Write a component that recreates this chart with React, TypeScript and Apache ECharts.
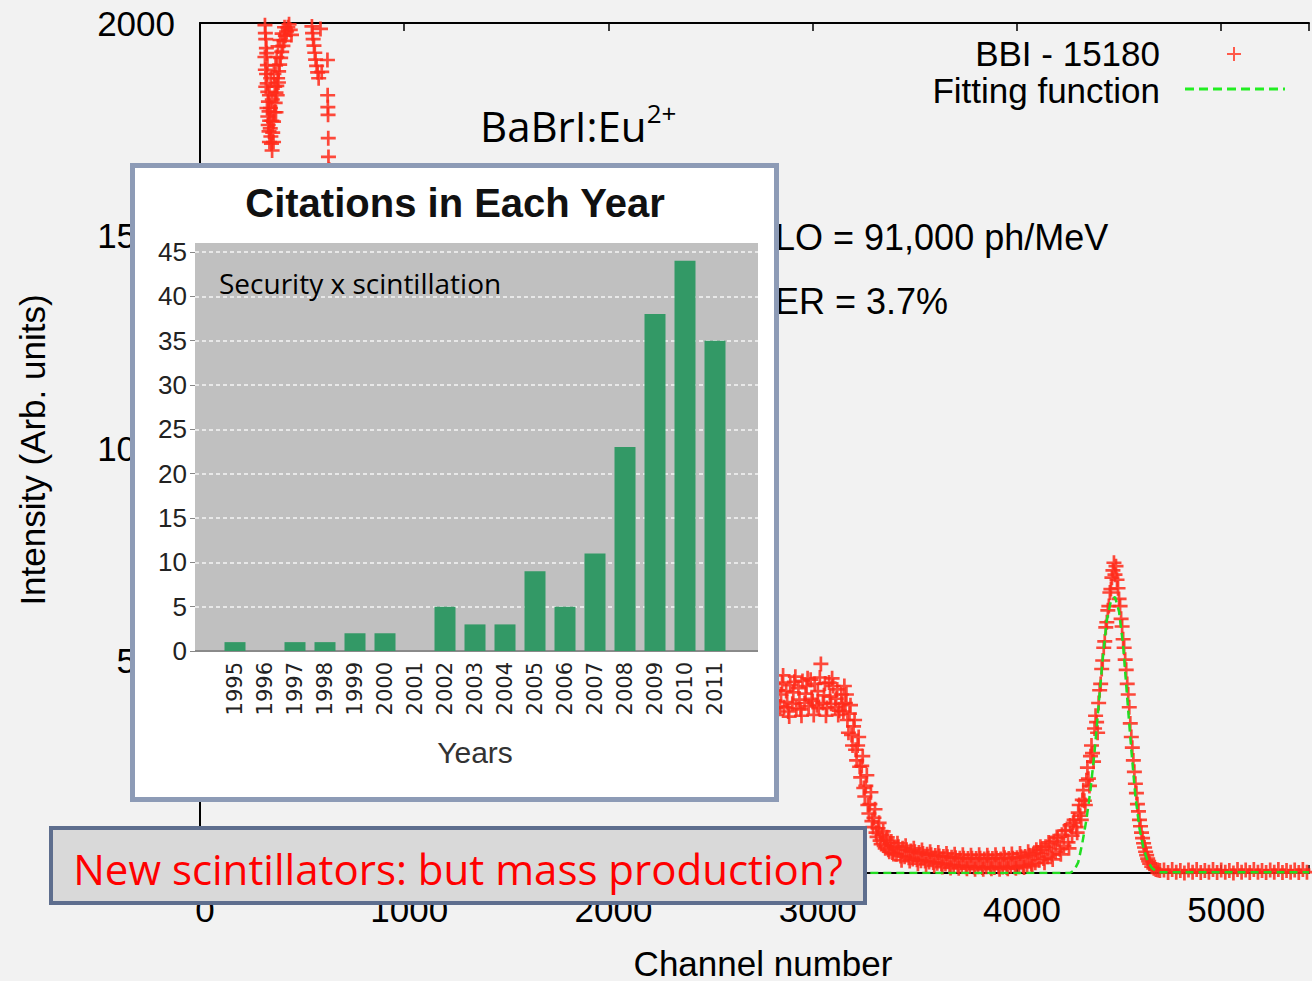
import React, { useEffect, useRef } from "react";
import * as echarts from "echarts";

// ---------- Inset: citations per year ----------
const years = ["1995","1996","1997","1998","1999","2000","2001","2002","2003","2004","2005","2006","2007","2008","2009","2010","2011"];
const citations = [1, 0, 1, 1, 2, 2, 0, 5, 3, 3, 9, 5, 11, 23, 38, 44, 35];
const insetTicks = [0, 5, 10, 15, 20, 25, 30, 35, 40, 45];

// ---------- Main spectrum: BBI - 15180 (channel, intensity) ----------
const bbiLowChannels = [
  [318,1995],[320,1976],[322,1962],[325,1941],[327,1929],[330,1901],[326,1880],[329,1858],[332,1838],
  [335,1815],[338,1792],[341,1770],[344,1752],[347,1733],[350,1716],[353,1700],[356,1742],[360,1768],
  [364,1790],[368,1812],[372,1836],[376,1852],[380,1870],[385,1886],[390,1902],[395,1918],[400,1932],
  [406,1946],[412,1958],[418,1970],[424,1980],[430,1990],[436,1997],[442,1984],[448,1972],[455,2300],
  [480,2500],[510,2450],[535,2250],[548,1992],[551,1976],[554,1962],[558,1947],[562,1930],[566,1914],
  [571,1899],[576,1884],[581,1870],[590,1986],[596,1885],[624,1913],[625,1830],[626,1802],[627,1784],
  [628,1729],[629,1685],[633,1655],[645,1640],
  [332,1780],[338,1745],[345,1800],[352,1770],[360,1720],[366,1850],[372,1790],[378,1830],[384,1860],
  [322,1850],[328,1800],[334,1760],[340,1830],[346,1870],[354,1820],[362,1880],[370,1900],[376,1920],
  [382,1945],[392,1960],[402,1975],[414,1990],[340,1720],[318,1920],[320,1890]
];
const bbiContinuum = [
  [660,1600],[700,1560],[800,1420],[900,1270],[1000,1130],[1200,930],[1400,780],[1600,660],
  [1800,580],[2000,530],[2200,490],[2400,465],[2600,440],[2700,428],[2760,420]
];
const bbiPlateau = [
  [2780,440],[2790,385],[2800,425],[2810,445],[2820,388],[2830,430],[2840,392],[2850,448],[2860,390],
  [2870,428],[2880,380],[2890,442],[2900,398],[2910,450],[2920,388],[2930,435],[2940,385],[2950,452],
  [2960,400],[2970,440],[2980,392],[2990,455],[3000,405],[3010,445],[3020,395],[3030,388],[3040,492],
  [3050,400],[3060,446],[3070,388],[3080,448],[3090,398],[3100,440],[3110,390],[3120,432],[3130,382],
  [3140,420],[3150,380],
  [2785,412],[2815,405],[2845,420],[2875,402],[2905,425],[2935,408],[2965,422],[2995,410],[3025,428],
  [3055,418],[3085,415],[3115,410],[3145,398],
  [2795,460],[2825,372],[2855,465],[2885,368],[2915,462],[2945,370],[2975,458],[3005,372],[3035,460],
  [3065,370],[3095,458],[3125,372],[3155,440]
];
const bbiComptonEdge = [
  [3160,400],[3170,360],[3180,375],[3190,325],[3200,345],[3210,290],[3220,300],[3230,250],[3240,252],
  [3250,200],[3260,205],[3270,160],[3280,162],[3290,122],[3300,130],[3310,95],[3320,105],[3330,76],
  [3340,90],[3350,64],[3360,78],[3370,55],[3380,70],[3390,48],[3400,62],
  [3165,420],[3175,330],[3185,395],[3195,300],[3205,360],[3215,265],[3225,320],[3235,225],[3245,275],
  [3255,180],[3265,230],[3275,140],[3285,190],[3295,108],[3305,150],[3315,85],[3325,118],[3335,68],
  [3345,98],[3355,58],[3365,84],[3375,50],[3385,74],[3395,45]
];
const bbiValley = [
  [3410,44],[3420,62],[3430,40],[3440,58],[3450,38],[3460,55],[3470,36],[3480,52],[3490,33],[3500,50],
  [3510,31],[3520,48],[3530,29],[3540,46],[3550,28],[3560,44],[3570,26],[3580,43],[3590,25],[3600,41],
  [3610,23],[3620,40],[3630,22],[3640,39],[3650,21],[3660,38],[3670,19],[3680,37],[3690,18],[3700,36],
  [3710,17],[3720,35],[3730,16],[3740,35],[3750,15],[3760,34],[3770,16],[3780,35],[3790,14],[3800,34],
  [3810,15],[3820,35],[3830,13],[3840,33],[3850,15],[3860,35],[3870,14],[3880,34],[3890,13],[3900,35],
  [3910,15],[3920,33],[3930,14],[3940,36],[3950,13],[3960,34],[3970,16],[3980,35],[3990,14],[4000,36],
  [4010,15],[4020,38],[4030,17],[4040,39],[4050,18],[4060,42],[4070,21],[4080,45],[4090,24],[4100,48],
  [3415,70],[3435,30],[3455,64],[3475,28],[3495,58],[3515,22],[3535,54],[3555,20],[3575,50],[3595,17],
  [3615,48],[3635,14],[3655,46],[3675,12],[3695,44],[3715,11],[3735,43],[3755,10],[3775,42],[3795,9],
  [3815,43],[3835,9],[3855,42],[3875,10],[3895,43],[3915,9],[3935,44],[3955,10],[3975,45],[3995,11],
  [4015,46],[4035,13],[4055,50],[4075,16],[4095,55]
];
const bbiPhotopeak = [
  [4110,30],[4120,55],[4130,34],[4140,62],[4150,38],[4160,68],[4170,44],[4180,75],[4190,50],[4200,82],
  [4210,56],[4220,90],[4230,64],[4240,100],[4250,72],[4260,112],[4270,88],[4280,125],[4290,108],[4300,142],
  [4310,135],[4320,172],[4330,170],[4340,218],[4350,222],[4360,275],[4370,282],[4380,340],[4390,355],
  [4400,400],[4405,430],[4410,445],[4415,480],[4420,500],[4425,530],[4430,545],[4435,578],[4440,590],
  [4445,618],[4450,628],[4455,660],[4460,668],[4465,695],[4470,712],[4475,730],[4480,702],[4485,722],
  [4490,690],[4495,670],[4500,645],[4505,628],[4510,598],[4515,580],[4520,550],[4525,530],[4530,502],
  [4535,478],[4540,445],[4545,420],[4550,390],[4555,352],[4560,320],[4565,295],[4570,265],[4575,238],
  [4580,210],[4585,188],[4590,162],[4595,145],[4600,125],[4610,95],[4620,70],[4630,50],[4640,34],
  [4650,22],[4660,15],[4670,11],[4680,8],[4690,7],[4700,6],
  [4115,62],[4135,24],[4155,72],[4175,32],[4195,85],[4215,44],[4235,100],[4255,58],[4275,118],[4295,95],
  [4305,160],[4315,125],[4325,195],[4335,160],[4345,248],[4355,205],[4365,300],[4375,262],[4385,370],
  [4395,330],[4605,110],[4615,82],[4625,60],[4635,42],[4645,28]
];
const bbiTail = [
  [4720,7],[4740,1],[4760,8],[4780,2],[4800,6],[4820,0],[4840,7],[4860,2],[4880,8],[4900,1],[4920,6],
  [4940,2],[4960,8],[4980,1],[5000,7],[5020,2],[5040,6],[5060,0],[5080,8],[5100,2],[5120,7],[5140,1],
  [5160,8],[5180,2],[5200,6],[5220,1],[5240,7],[5260,2],[5280,8],[5300,1],[5320,6],[5340,2],[5360,7],
  [5380,1],[5400,8],[5420,2]
];
const fittingFunction = [
  [2200,0],[4260,0],[4280,6],[4300,25],[4320,70],[4340,125],[4360,195],[4380,285],[4400,395],[4420,505],
  [4440,595],[4460,640],[4480,650],[4500,615],[4520,535],[4540,412],[4560,290],[4580,180],[4600,105],
  [4620,58],[4640,28],[4660,12],[4680,5],[4700,2],[5430,2]
];
const xTicks = [0, 1000, 2000, 3000, 4000, 5000];
const yTicks = [0, 500, 1000, 1500, 2000];

const CROSS = "path://M0,4.1H10V5.9H0Z M4.1,0H5.9V10H4.1Z";
const HELV = '"Liberation Sans", Arial, sans-serif';
const NARROW = '"Liberation Sans Narrow", "Liberation Sans", sans-serif';
const CAL = '"Open Sans", "Noto Sans", sans-serif';

function txt(x: number, y: number, text: string, font: string, fill: string, align: string, vAlign: string, z: number, extra: any = {}) {
  return {
    type: "text", x, y, z, silent: true, ...extra,
    style: { text, font, fill, align, verticalAlign: vAlign, textAlign: align, textVerticalAlign: vAlign },
  };
}

export default function App() {
  const ref = useRef<HTMLDivElement>(null);
  useEffect(() => {
    if (!ref.current) return;
    const chart = echarts.init(ref.current, null, { renderer: "svg" });
    const spectrum = [
      ...bbiLowChannels, ...bbiContinuum, ...bbiPlateau, ...bbiComptonEdge,
      ...bbiValley, ...bbiPhotopeak, ...bbiTail,
    ];
    const option: any = {
      animation: false,
      backgroundColor: "#f2f2f2",
      grid: [
        { left: 200, top: 23, width: 1112, height: 850 },
        { left: 220, top: 252, width: 510, height: 399 },
        { left: 195, top: 252, width: 563, height: 399 },
      ],
      xAxis: [
        {
          gridIndex: 0, type: "value", min: 0, max: 5430, interval: 1000, position: "bottom",
          axisLine: { lineStyle: { color: "#000", width: 2 } },
          axisTick: { inside: true, length: 8, lineStyle: { color: "#000", width: 1.5 } },
          axisLabel: {
            fontSize: 35, fontFamily: HELV, color: "#000", margin: 19, padding: [0, 0, 0, 10],
            formatter: (v: number) => (xTicks.indexOf(v) >= 0 ? String(v) : ""),
          },
          splitLine: { show: false },
        },
        {
          gridIndex: 0, type: "value", min: 0, max: 5430, interval: 1000, position: "top",
          axisLine: { lineStyle: { color: "#000", width: 2 } },
          axisTick: { inside: true, length: 8, lineStyle: { color: "#000", width: 1.5 } },
          axisLabel: { show: false },
          splitLine: { show: false },
        },
        {
          gridIndex: 1, type: "category", data: years, z: 7,
          axisLine: { show: false }, axisTick: { show: false },
          axisLabel: { rotate: 90, fontSize: 21, fontFamily: '"DejaVu Sans", sans-serif', color: "#222", margin: 11 },
        },
        {
          gridIndex: 2, type: "value", min: 0, max: 1, show: false,
        },
      ],
      yAxis: [
        {
          gridIndex: 0, type: "value", min: 0, max: 2000, interval: 500,
          axisLine: { show: true, lineStyle: { color: "#000", width: 2 } },
          axisTick: { show: true, inside: true, length: 8, lineStyle: { color: "#000", width: 1.5 } },
          axisLabel: {
            fontSize: 35, fontFamily: HELV, color: "#000", margin: 25,
            formatter: (v: number) => (yTicks.indexOf(v) >= 0 ? String(v) : ""),
          },
          splitLine: { show: false },
        },
        {
          gridIndex: 1, type: "value", min: 0, max: 45, interval: 5, offset: 25, z: 7,
          axisLine: { show: false },
          axisTick: { show: true, length: 5, lineStyle: { color: "#888" } },
          axisLabel: {
            fontSize: 26, fontFamily: NARROW, color: "#222", margin: 8,
            formatter: (v: number) => (insetTicks.indexOf(v) >= 0 ? String(v) : ""),
          },
          splitLine: { show: false },
        },
        {
          gridIndex: 2, type: "value", min: 0, max: 45, interval: 5, z: 6.5,
          axisLine: { show: false }, axisTick: { show: false }, axisLabel: { show: false },
          splitLine: { show: true, lineStyle: { color: "#ffffff", type: [4, 3], width: 1.5, opacity: 0.85 } },
        },
      ],
      series: [
        {
          name: "BBI - 15180", type: "scatter", xAxisIndex: 0, yAxisIndex: 0, data: spectrum,
          symbol: CROSS, symbolSize: 15, clip: false, z: 2, silent: true,
          itemStyle: { color: "#ff2a1a", opacity: 0.85 },
        },
        {
          name: "Fitting function", type: "line", xAxisIndex: 0, yAxisIndex: 0, data: fittingFunction,
          showSymbol: false, z: 3, silent: true,
          lineStyle: { color: "#22dd22", width: 2.5, type: [8, 5] },
        },
        {
          name: "Citations", type: "bar", xAxisIndex: 2, yAxisIndex: 1, data: citations,
          barWidth: 21, z: 8, silent: true, itemStyle: { color: "#339966" },
        },
      ],
      graphic: [
        // legend
        txt(1160, 53, "BBI - 15180", `35px ${HELV}`, "#000", "right", "middle", 3),
        txt(1160, 90, "Fitting function", `35px ${HELV}`, "#000", "right", "middle", 3),
        { type: "line", z: 3, silent: true, shape: { x1: 1227, y1: 54, x2: 1241, y2: 54 }, style: { stroke: "#ff5a4a", lineWidth: 2 } },
        { type: "line", z: 3, silent: true, shape: { x1: 1234, y1: 47, x2: 1234, y2: 61 }, style: { stroke: "#ff5a4a", lineWidth: 2 } },
        { type: "line", z: 3, silent: true, shape: { x1: 1185, y1: 89, x2: 1285, y2: 89 }, style: { stroke: "#22ee22", lineWidth: 3, lineDash: [9, 5] } },
        // annotations
        txt(775, 237, "LO = 91,000 ph/MeV", `36px ${HELV}`, "#000", "left", "middle", 3),
        txt(775, 301, "ER = 3.7%", `36px ${HELV}`, "#000", "left", "middle", 3),
        {
          type: "text", x: 480, y: 125, z: 3, silent: true,
          style: {
            text: "{m|BaBrI:Eu}{s|2+}", align: "left", verticalAlign: "middle", textAlign: "left", textVerticalAlign: "middle",
            rich: {
              m: { font: `42px ${CAL}`, fill: "#000", lineHeight: 50 },
              s: { font: `26px ${CAL}`, fill: "#000", verticalAlign: "top", lineHeight: 26 },
            },
          },
        },
        // axis titles
        txt(32, 450, "Intensity (Arb. units)", `35px ${HELV}`, "#000", "center", "middle", 3, { rotation: Math.PI / 2 }),
        txt(763, 963, "Channel number", `35px ${HELV}`, "#000", "center", "middle", 3),
        // inset
        { type: "rect", z: 5, silent: true, shape: { x: 132.5, y: 165.5, width: 644, height: 634 }, style: { fill: "#ffffff", stroke: "#8d9bb6", lineWidth: 5 } },
        { type: "rect", z: 6, silent: true, shape: { x: 195, y: 243, width: 563, height: 408 }, style: { fill: "#c0c0c0" } },
        { type: "line", z: 7, silent: true, shape: { x1: 195, y1: 651, x2: 758, y2: 651 }, style: { stroke: "#8a8a8a", lineWidth: 2 } },
        txt(455, 203, "Citations in Each Year", `bold 40px ${HELV}`, "#111", "center", "middle", 9),
        txt(219, 283, "Security x scintillation", `28px ${CAL}`, "#000", "left", "middle", 9),
        txt(475, 752, "Years", `30px ${NARROW}`, "#333", "center", "middle", 9),
        // bottom question box
        { type: "rect", z: 20, silent: true, shape: { x: 51, y: 828, width: 814, height: 75 }, style: { fill: "#d9d9d9", stroke: "#5e6e8e", lineWidth: 4 } },
        txt(458, 868, "New scintillators: but mass production?", `42px ${CAL}`, "#ff0000", "center", "middle", 21),
      ],
    };
    chart.setOption(option);
    return () => chart.dispose();
  }, []);
  return (
    <div
      ref={ref}
      style={{ position: "absolute", left: 0, top: 0, width: 1312, height: 981, background: "#f2f2f2" }}
    />
  );
}
